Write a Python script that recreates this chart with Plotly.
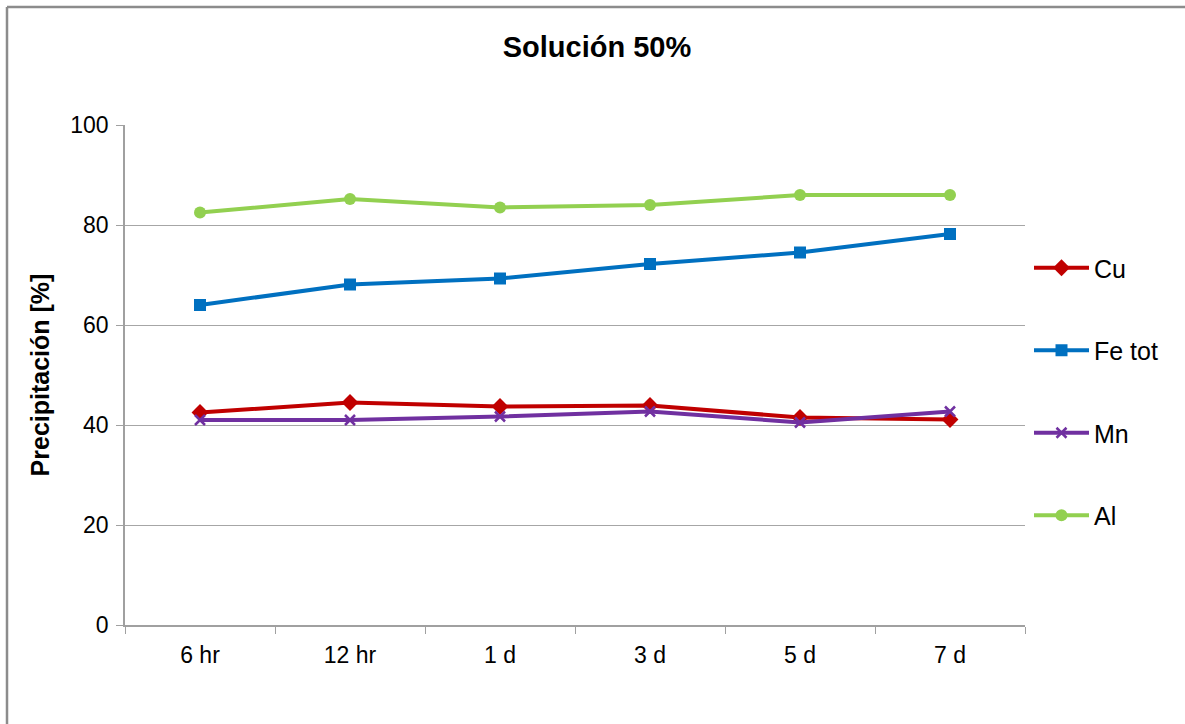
import plotly.graph_objects as go

categories = ["6 hr", "12 hr", "1 d", "3 d", "5 d", "7 d"]
cu = [42.5, 44.5, 43.7, 43.9, 41.5, 41.1]
fe_tot = [64.0, 68.1, 69.3, 72.2, 74.5, 78.2]
mn = [41.0, 41.0, 41.7, 42.7, 40.5, 42.7]
al = [82.5, 85.2, 83.5, 84.0, 86.0, 86.0]

series = [
    ("Cu", cu, "#C00000", "diamond", 13),
    ("Fe tot", fe_tot, "#0070C0", "square", 12),
    ("Mn", mn, "#7030A0", "x-thin-open", 10),
    ("Al", al, "#92D050", "circle", 12),
]

fig = go.Figure()
for name, vals, color, sym, size in series:
    marker = dict(symbol=sym, size=size, color=color)
    if sym == "x-thin-open":
        marker["line"] = dict(width=2.5, color=color)
    fig.add_trace(go.Scatter(
        x=categories, y=vals, name=name, mode="lines+markers",
        line=dict(color=color, width=4), marker=marker, legendgroup=name,
    ))

L, T, W, H = 125, 125, 900, 500
fig.update_layout(
    width=1185, height=724,
    margin=dict(l=L, r=1185 - L - W, t=T, b=724 - T - H),
    paper_bgcolor="white", plot_bgcolor="white",
    font=dict(family="Liberation Sans, Arial, sans-serif", size=22, color="#000000"),
    title=dict(text="<b>Solución 50%</b>", x=(597 - L) / W, xref="paper", xanchor="center",
               y=1 - 47 / 724, yanchor="middle", font=dict(size=29)),
    legend=dict(x=(1029 - L) / W, xanchor="left", y=1 - (245 - T) / H, yanchor="top",
                font=dict(size=25), tracegroupgap=47, itemwidth=55,
                bgcolor="rgba(0,0,0,0)"),
    showlegend=True,
)
fig.update_xaxes(
    type="category", showline=True, linecolor="#A0A0A0", linewidth=1.5,
    ticks="outside", tickson="boundaries", ticklen=7, tickcolor="#A0A0A0",
    showgrid=False, tickfont=dict(size=23), range=[-0.5, 5.5],
    ticklabelstandoff=9,
)
fig.update_yaxes(
    range=[0, 100], dtick=20, showline=True, linecolor="#A0A0A0", linewidth=1.5,
    ticks="outside", ticklen=7, tickcolor="#A0A0A0",
    showgrid=True, gridcolor="#A6A6A6", gridwidth=1.2, zeroline=False,
    tickfont=dict(size=23), ticklabelstandoff=3,
    title=dict(text="<b>Precipitación [%]</b>", font=dict(size=25), standoff=14),
)
# outer frame (left and top edges visible)
x0 = (7 - L) / W
y1 = 1 + (T - 7) / H
fig.add_shape(type="line", xref="paper", yref="paper", x0=x0, x1=x0, y0=-1, y1=y1,
              line=dict(color="#8C8C8C", width=2.5))
fig.add_shape(type="line", xref="paper", yref="paper", x0=x0, x1=2, y0=y1, y1=y1,
              line=dict(color="#8C8C8C", width=2.5))

fig.write_html("out.html")
